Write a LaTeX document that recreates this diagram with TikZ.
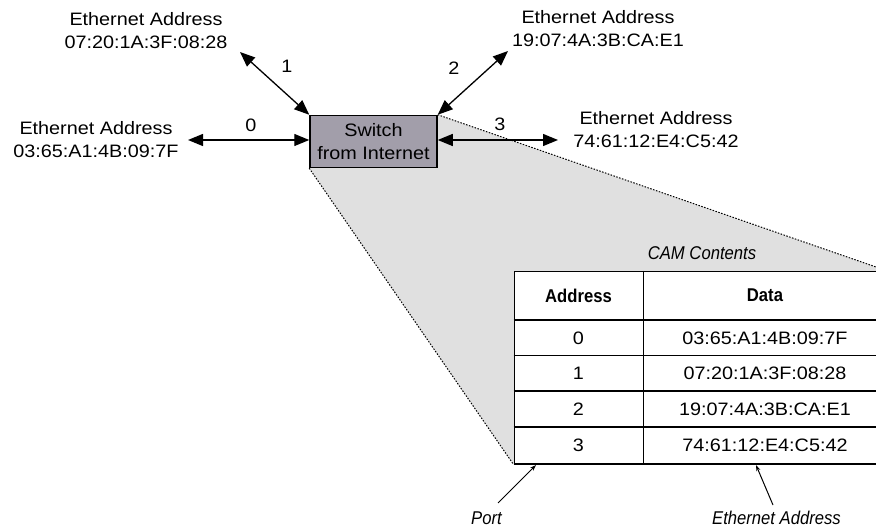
\documentclass[tikz,border=0pt]{standalone}
\usepackage{fontspec}
\setmainfont[FakeStretch=1.1]{Liberation Sans}
\newfontfamily\condf[FakeStretch=0.9]{Liberation Sans}
\usetikzlibrary{arrows.meta,backgrounds}
\definecolor{swfill}{RGB}{162,158,170}
\definecolor{zoomgray}{RGB}{224,224,224}
\begin{document}
\begin{tikzpicture}[x=1pt,y=-1pt,
  every node/.style={font=\fontsize{18}{23}\selectfont, inner sep=0pt},
  lbl/.style={align=center},
  cond/.style={font=\condf\fontsize{18.5}{22}\selectfont\itshape},
  hdr/.style={font=\condf\fontsize{18.5}{22}\selectfont\bfseries},
  biarrow/.style={line width=1.3pt, {Triangle[length=15pt,width=12pt]}-{Triangle[length=15pt,width=12pt]}},
  ptr/.style={line width=1pt, -{Stealth[length=6pt,width=4pt]}},
  zoomline/.style={line width=1pt, dash pattern=on 1.5pt off 1.5pt},
  tblline/.style={line width=1.5pt}
]
\useasboundingbox (0,0) rectangle (876,529);
\clip (0,0) rectangle (876,529);

% switch
\node[draw, line width=1.5pt, fill=swfill, minimum width=127pt, minimum height=52pt, align=center] (sw) at (373.5,141.5) {Switch\\from Internet};

% table
\node[draw, tblline, fill=white, minimum width=372.5pt, minimum height=192pt, anchor=north west] (cam) at (513.5,271) {};
\draw[tblline] (643.5,271) -- (643.5,463);
\foreach \yy in {320,355.5,391,427} {
  \draw[tblline] (513.5,\yy) -- (886,\yy);
}

% zoom region
\begin{pgfonlayer}{background}
\fill[zoomgray] (sw.south west) -- (sw.north east) -- (cam.north east) -- (cam.south east) -- (cam.south west) -- cycle;
\end{pgfonlayer}
\draw[zoomline] (sw.south west) -- (cam.south west);
\draw[zoomline] (sw.north east) -- (cam.north east);

\node[cond] (camt) at (702,253) {CAM Contents};
\node[hdr] (ha) at (578.5,295.5) {Address};
\node[hdr] (hd) at (765,295.5) {Data};
\node (a0) at (578.5,338) {0};
\node (d0) at (765,338) {03:65:A1:4B:09:7F};
\node (a1) at (578.5,373.5) {1};
\node (d1) at (765,373.5) {07:20:1A:3F:08:28};
\node (a2) at (578.5,409) {2};
\node (d2) at (765,409) {19:07:4A:3B:CA:E1};
\node (a3) at (578.5,445) {3};
\node (d3) at (765,445) {74:61:12:E4:C5:42};

% hosts
\node[lbl] (h1) at (146,31) {Ethernet Address\\07:20:1A:3F:08:28};
\node[lbl] (h0) at (96,139.5) {Ethernet Address\\03:65:A1:4B:09:7F};
\node[lbl] (h2) at (598,29) {Ethernet Address\\19:07:4A:3B:CA:E1};
\node[lbl] (h3) at (656,129.5) {Ethernet Address\\74:61:12:E4:C5:42};

\coordinate (e0) at (188,140);
\coordinate (e1) at (240,52);
\coordinate (e2) at (508,51);
\coordinate (e3) at (558,140);
\draw[biarrow] (e0) -- (e0 -| sw.west);
\draw[biarrow] (e1) -- (sw.north west);
\draw[biarrow] (e2) -- (sw.north east);
\draw[biarrow] (e3 -| sw.east) -- (e3);

\node (n0) at (251,125) {0};
\node (n1) at (287,66) {1};
\node (n2) at (454,68) {2};
\node (n3) at (500,124) {3};

% bottom labels
\node[cond] (port) at (486.5,518) {Port};
\node[cond] (ethl) at (776.5,518) {Ethernet Address};
\coordinate (ps) at (498,503);
\coordinate (pe) at (536,465);
\coordinate (es) at (773,505);
\coordinate (ee) at (756,465);
\draw[ptr] (ps) -- (pe);
\draw[ptr] (es) -- (ee);
\end{tikzpicture}
\end{document}
